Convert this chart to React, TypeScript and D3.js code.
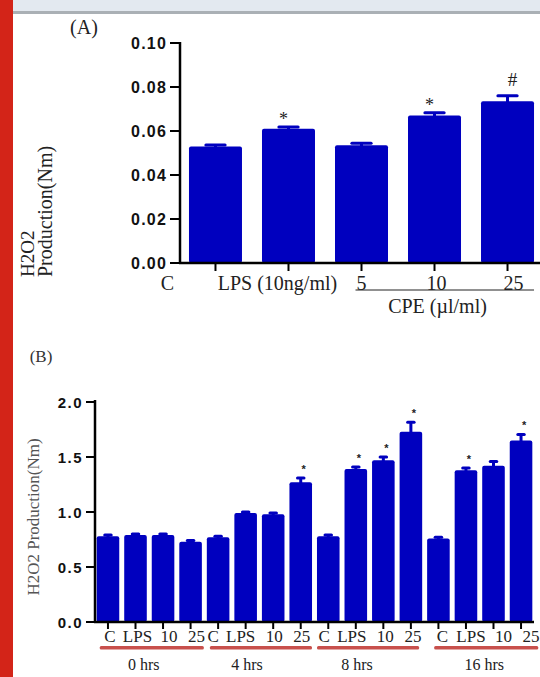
import React from "react";
import * as d3 from "d3";

// ---------- Data: panel A ----------
const catsA = ["C", "LPS (10ng/ml)", "5", "10", "25"];
const valsA = [0.053, 0.061, 0.0535, 0.067, 0.0735];
const errA = [0.0006, 0.0008, 0.0009, 0.0013, 0.0025];
const marksA = ["", "*", "", "*", "#"];
const ticksA = [0, 0.02, 0.04, 0.06, 0.08, 0.1];

// ---------- Data: panel B ----------
const groupsB = ["0 hrs", "4 hrs", "8 hrs", "16 hrs"];
const subCatsB = ["C", "LPS", "10", "25"];
const valsB = [
  0.78, 0.79, 0.79, 0.73,
  0.77, 0.99, 0.98, 1.27,
  0.78, 1.39, 1.47, 1.73,
  0.76, 1.38, 1.42, 1.65,
];
const errB = [
  0.01, 0.01, 0.01, 0.01,
  0.01, 0.01, 0.01, 0.04,
  0.01, 0.02, 0.03, 0.085,
  0.01, 0.02, 0.04, 0.055,
];
const marksB = [
  "", "", "", "",
  "", "", "", "*",
  "", "*", "*", "*",
  "", "*", "", "*",
];
const ticksB = [0, 0.5, 1.0, 1.5, 2.0];

// ---------- Layout ----------
const W = 540;
const H = 677;
const BLUE = "#0000bf";
const SERIF = "'Liberation Serif', 'Times New Roman', serif";
const SANS = "'Liberation Sans', Arial, sans-serif";

// label nudges (layout only)
const nudgeA = [-48, -11, 0, 2, 6];
const nudgeB = [2, 2, 6, 6, -5, -5, 1, 1, -4, -4, 2, 2, 4, 5, 10, 10];
const groupLineNudge = [[3, 2], [3, 0], [0, -3], [7, 6]];
const groupLabelNudge = [-8, -14, -11, -2];

function ErrorBar({ cx, top, errPx, barW }: { cx: number; top: number; errPx: number; barW: number }) {
  const capW = barW * 0.42;
  const yc = top - errPx;
  return (
    <g fill={BLUE}>
      <rect x={cx - 1.5} y={yc} width={3} height={errPx + 1} />
      <rect x={cx - capW / 2} y={yc - 1.5} width={capW} height={3} rx={1.5} />
    </g>
  );
}

export default function App() {
  // Panel A scales
  const xA = d3.scaleBand<number>().domain(d3.range(catsA.length)).range([180, 543]).paddingInner(0.274).paddingOuter(0.123);
  const yA = d3.scaleLinear().domain([0, 0.1]).range([263, 43]);
  const bwA = xA.bandwidth();

  // Panel B scales
  const xB = d3.scaleBand<number>().domain(d3.range(valsB.length)).range([95.3, 533.7]).paddingInner(0.18).paddingOuter(0.05);
  const yB = d3.scaleLinear().domain([0, 2]).range([622, 402]);
  const bwB = xB.bandwidth();

  const cA = (i: number) => (xA(i) as number) + bwA / 2;
  const cB = (i: number) => (xB(i) as number) + bwB / 2;

  return (
    <svg width={W} height={H} style={{ position: "absolute", left: 0, top: 0, background: "#fff" }}>
      {/* page frame */}
      <rect x={0} y={0} width={W} height={11} fill="#e3e9f0" />
      <rect x={0} y={11} width={W} height={3} fill="#aab0b5" />
      <rect x={0} y={0} width={13} height={H} fill="#d32418" />

      {/* ================= Panel A ================= */}
      <text x={84} y={34} fontFamily={SERIF} fontSize={20} textAnchor="middle" fill="#222">(A)</text>

      {/* y label */}
      <text transform="translate(34,277) rotate(-90)" fontFamily={SERIF} fontSize={19} fill="#222">H2O2</text>
      <text transform="translate(52,277) rotate(-90)" fontFamily={SERIF} fontSize={20} fill="#222">Production(Nm)</text>

      {/* bars */}
      {valsA.map((v, i) => (
        <g key={"a" + i}>
          <rect x={xA(i)} y={yA(v)} width={bwA} height={yA(0) - yA(v)} fill={BLUE} rx={2} />
          <ErrorBar cx={cA(i)} top={yA(v)} errPx={yA(0) - yA(errA[i])} barW={bwA} />
          {marksA[i] && (
            <text
              x={cA(i) + (marksA[i] === "#" ? 5 : -5)}
              y={yA(v + errA[i]) - (marksA[i] === "#" ? 10 : 2)}
              fontFamily={SERIF}
              fontSize={marksA[i] === "#" ? 19 : 18}
              textAnchor="middle"
              fill="#222"
            >
              {marksA[i]}
            </text>
          )}
        </g>
      ))}

      {/* axes */}
      <line x1={180} x2={180} y1={42} y2={264} stroke="#000" strokeWidth={2.5} />
      <line x1={179} x2={540} y1={263} y2={263} stroke="#000" strokeWidth={2.5} />
      {ticksA.map((t) => (
        <g key={"ta" + t}>
          <line x1={170} x2={180} y1={yA(t)} y2={yA(t)} stroke="#000" strokeWidth={2} />
          <text x={167} y={yA(t) + 6} fontFamily={SANS} fontWeight="bold" fontSize={16} letterSpacing={1.2} textAnchor="end" fill="#111">
            {d3.format(".2f")(t)}
          </text>
        </g>
      ))}
      {catsA.map((c, i) => (
        <g key={"xa" + i}>
          <line x1={cA(i)} x2={cA(i)} y1={263} y2={271} stroke="#000" strokeWidth={2} />
          <text x={cA(i) + nudgeA[i]} y={i === 0 ? 290 : 290} fontFamily={SERIF} fontSize={20} textAnchor="middle" fill="#222">
            {c}
          </text>
        </g>
      ))}
      {/* CPE bracket */}
      <line x1={cA(2) - 6} x2={xA(4)! + bwA} y1={290} y2={290} stroke="#222" strokeWidth={1} />
      <text x={(cA(2) + cA(4)) / 2 + 3} y={313} fontFamily={SERIF} fontSize={20} textAnchor="middle" fill="#222">
        CPE (µl/ml)
      </text>

      {/* ================= Panel B ================= */}
      <text x={41} y={362} fontFamily={SERIF} fontSize={17} textAnchor="middle" fill="#333">(B)</text>
      <text transform="translate(39,517) rotate(-90)" fontFamily={SERIF} fontSize={17} textAnchor="middle" fill="#555">
        H2O2 Production(Nm)
      </text>

      {valsB.map((v, i) => (
        <g key={"b" + i}>
          <rect x={xB(i)} y={yB(v)} width={bwB} height={yB(0) - yB(v)} fill={BLUE} rx={2} />
          <ErrorBar cx={cB(i)} top={yB(v)} errPx={yB(0) - yB(errB[i])} barW={bwB} />
          {marksB[i] && (
            <text x={cB(i) + 3} y={yB(v + errB[i]) - 5} fontFamily={SANS} fontWeight="bold" fontSize={11} textAnchor="middle" fill="#222">
              *
            </text>
          )}
        </g>
      ))}

      <line x1={95} x2={95} y1={400} y2={623} stroke="#000" strokeWidth={2.5} />
      <line x1={94} x2={534} y1={622} y2={622} stroke="#000" strokeWidth={2.5} />
      {ticksB.map((t) => (
        <g key={"tb" + t}>
          <line x1={86} x2={95} y1={yB(t)} y2={yB(t)} stroke="#000" strokeWidth={2} />
          <text x={83} y={yB(t) + 5.5} fontFamily={SANS} fontWeight="bold" fontSize={15} letterSpacing={1.5} textAnchor="end" fill="#111">
            {d3.format(".1f")(t)}
          </text>
        </g>
      ))}
      {valsB.map((_, i) => (
        <g key={"xb" + i}>
          <line x1={cB(i)} x2={cB(i)} y1={622} y2={629} stroke="#000" strokeWidth={2} />
          <text x={cB(i) + nudgeB[i]} y={642} fontFamily={SERIF} fontSize={17} textAnchor="middle" fill="#222">
            {subCatsB[i % subCatsB.length]}
          </text>
        </g>
      ))}
      {groupsB.map((g, gi) => {
        const first = gi * subCatsB.length;
        const last = first + subCatsB.length - 1;
        const x0 = (xB(first) as number) + groupLineNudge[gi][0];
        const x1 = (xB(last) as number) + bwB + groupLineNudge[gi][1];
        return (
          <g key={"g" + gi}>
            <rect x={x0} y={646} width={x1 - x0} height={3.5} rx={1.5} fill="#c8504c" />
            <text x={(x0 + x1) / 2 + groupLabelNudge[gi]} y={670} fontFamily={SERIF} fontSize={16} textAnchor="middle" fill="#222">
              {g}
            </text>
          </g>
        );
      })}
    </svg>
  );
}
